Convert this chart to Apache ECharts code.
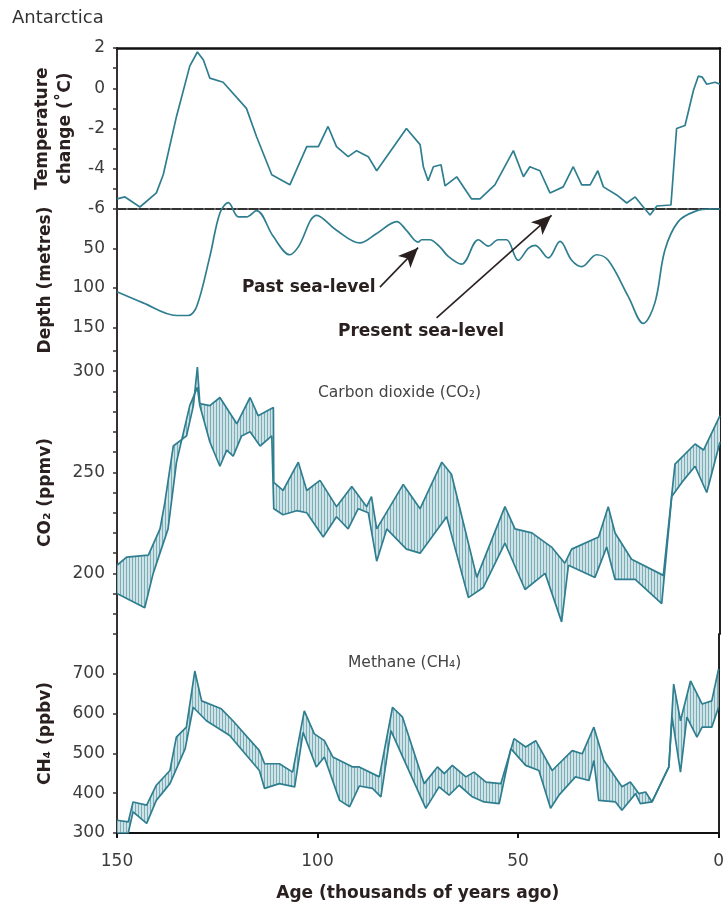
<!DOCTYPE html>
<html>
<head>
<meta charset="utf-8">
<script src="https://cdn.jsdelivr.net/npm/echarts@6/dist/echarts.min.js"></script>
<style>
html,body{margin:0;padding:0;background:#fff;}
#chart{width:727px;height:905px;}
</style>
</head>
<body>
<div id="chart"></div>
<script>
// ---------- DATA ----------
const xTicks = [150, 100, 50, 0];

const tempAge = [150,148,144.3,140.2,138.5,135.2,131.9,130.0,128.5,126.9,123.6,117.8,115.3,111.5,107.0,102.8,99.9,97.5,95.4,92.5,90.4,87.5,85.4,78.0,74.6,73.8,72.6,71.3,69.4,68.4,65.5,61.8,59.7,56.0,51.4,48.9,47.3,44.8,42.3,39.0,36.5,34.4,32.3,30.4,29.0,25.7,23.2,21.1,19.5,17.4,15.7,12.2,10.8,8.7,6.6,5.4,4.4,3.3,1.2,0];
const tempC = [-5.5,-5.4,-5.9,-5.2,-4.3,-1.4,1.1,1.8,1.4,0.5,0.3,-1.0,-2.4,-4.3,-4.8,-2.9,-2.9,-1.9,-2.9,-3.4,-3.1,-3.4,-4.1,-2.0,-2.8,-3.9,-4.6,-3.9,-3.8,-4.85,-4.4,-5.5,-5.5,-4.8,-3.1,-4.4,-3.9,-4.1,-5.2,-4.9,-3.9,-4.8,-4.8,-4.1,-4.9,-5.3,-5.7,-5.4,-5.8,-6.3,-5.85,-5.8,-2.0,-1.85,-0.1,0.6,0.55,0.2,0.3,0.2];

const depthAge = [150,143.5,135.2,132.3,130.2,126.9,124.4,122.3,119.8,117.8,115.3,111.1,107.0,104.9,100.3,95.4,89.6,85.4,80.4,78,75.1,74.2,72.2,69.7,67.6,64.3,60.1,57.6,55.2,53.1,50.2,47.7,46.0,42.7,39.8,36.9,34.4,30.7,27.8,22.8,19.1,16.2,13.7,10.4,6.2,2.1,0];
const depthM = [105,119,135,135,124,60,5,-8,10,10,2,35,58,48,8,27,43,31,16,27,42,39,39,48,60,70,39,47,39,39,65,50,46,62,41,65,73,58,65,111,145,119,52,16,3,0,0];

const co2UpperAge = [150,147.6,142.2,139.3,138.1,136,132.7,131,130,129.4,126.9,124.4,120.2,116.9,114.9,111.1,111,108.7,104.9,102.8,99.5,95.4,91.6,87.9,86.7,85.4,78.8,74.6,69.2,66.8,60.5,53.5,51,46.8,41.9,38.6,36.9,30.2,27.8,26.1,22,14.1,11.2,6.2,4.1,0];
const co2Upper = [204,208,209,222,235,263,268,283,302,284,283,287,274,287,278,282,245,241,255,241,246,233,243,233,238,222,244,232,255,249,198,233,222,220,213,205,212,218,233,220,207,199,254,264,261,278];
const co2LowerAge = [150,143.1,141,137.3,135.2,131.9,130,129.4,126.9,124.4,122.7,121.1,119.0,116.9,114.4,111.5,111,108.7,105.3,102.8,98.7,95.4,92.5,90,87.5,85.4,82.9,78,74.6,68,62.6,58.9,53.5,48.5,43.5,39.4,37.7,31.1,28.2,26.1,21.1,14.5,12,9.5,6.2,3.3,0];
const co2Lower = [190,183,200,222,255,283,292,283,265,253,261,258,268,270,263,268,232,229,231,230,218,228,222,232,230,206,222,212,210,228,188,193,215,192,200,176,204,198,213,197,197,185,238,245,253,240,265];

const ch4UpperAge = [150,147.2,146,142.6,140.2,136.8,135.2,132.7,130.6,128.9,124,121.1,114.5,113.2,109.5,106.2,103.3,100.8,98.3,96.2,91.2,89.6,84.6,81.3,78.8,73.4,70.1,68.4,66.4,63,61,58,54.3,51,48.1,45.6,41.5,36.5,34,31.1,28.6,24.1,22,19.9,18.2,16.6,12.4,11.2,9.5,7,4.1,1.7,0];
const ch4Upper = [332,328,378,370,420,457,541,566,707,632,612,582,507,474,474,453,607,549,532,491,466,466,441,616,591,424,466,449,470,441,453,428,424,537,516,532,457,507,499,566,482,416,428,399,403,378,466,674,582,682,624,632,712];
const ch4LowerAge = [150,147.2,146,142.6,140.2,136.8,133,131,127.7,121.9,114.5,113.2,109.5,105.7,103.6,100.3,98.3,94.5,92,89.6,86.3,84.2,81.7,73,69.7,67.2,64.7,61.4,58.5,54.7,51.8,48.1,44.8,41.9,39.8,35.7,32.3,31.1,29.9,25.7,24.1,20.7,19.5,16.6,12.4,11.6,9.5,7.9,5.4,4.1,1.7,0];
const ch4Lower = [300,300,353,324,382,424,512,616,582,545,457,412,424,416,553,466,491,382,366,418,412,391,557,362,416,395,420,391,378,374,512,470,457,362,395,441,432,482,382,378,357,399,374,378,466,591,453,591,541,566,566,616];

// arrows (data space of the depth panel): [age, depth] tail -> head
const pastArrow = [[84.6, 99], [75.1, 49]];
const presentArrow = [[70.5, 138], [41.9, 8]];

// ---------- helpers ----------
const zip = (a, b) => a.map((x, i) => [x, b[i]]);
const TEAL = '#2f7e90';
const AXIS = '#3a2e2e';
const FONT = '"DejaVu Sans", "Liberation Sans", Arial, sans-serif';

function hatch() {
  const c = document.createElement('canvas');
  c.width = 3; c.height = 2;
  const g = c.getContext('2d');
  g.fillStyle = '#cfe3e7'; g.fillRect(0, 0, 3, 2);
  g.fillStyle = '#7aaeb9'; g.fillRect(0, 0, 1, 2);
  return c;
}
const hatchPattern = { image: hatch(), repeat: 'repeat' };

function bandSeries(idx, upper, lower) {
  return {
    type: 'custom', xAxisIndex: idx, yAxisIndex: idx, silent: true, z: 1,
    data: [[75, upper[0][1]]],
    renderItem: function (params, api) {
      const pts = upper.map(p => api.coord(p)).concat(lower.slice().reverse().map(p => api.coord(p)));
      return { type: 'polygon', shape: { points: pts }, style: { fill: hatchPattern, stroke: null } };
    }
  };
}
function lineSeries(idx, data, extra) {
  return Object.assign({
    type: 'line', xAxisIndex: idx, yAxisIndex: idx, data: data, symbol: 'none',
    lineStyle: { color: TEAL, width: 1.7 }, z: 3, silent: true, animation: false
  }, extra || {});
}

const grids = [
  { left: 117, right: 7, top: 48, height: 161 },
  { left: 117, right: 7, top: 209, height: 142 },
  { left: 117, right: 7, top: 351, height: 283 },
  { left: 117, right: 7, top: 634, height: 199 }
];

const LBL = { fontSize: 17, color: '#3c3c3c', fontFamily: FONT };
const TITLE = { fontSize: 17, fontWeight: 'bold', color: '#2a2020', fontFamily: FONT };
const baseX = { type: 'value', min: 0, max: 150, inverse: true, splitLine: { show: false } };
const xAxes = [
  Object.assign({}, baseX, { gridIndex: 0, position: 'top', axisLine: { onZero: false, lineStyle: { color: '#111', width: 2.5 } }, axisTick: { show: false }, axisLabel: { show: false } }),
  Object.assign({}, baseX, { gridIndex: 1, position: 'top', axisLine: { onZero: false, lineStyle: { color: '#333', width: 2, type: [9, 2] } }, axisTick: { show: false }, axisLabel: { show: false } }),
  Object.assign({}, baseX, { gridIndex: 2, show: false }),
  Object.assign({}, baseX, {
    gridIndex: 3, position: 'bottom', interval: 50,
    axisLine: { onZero: false, lineStyle: { color: '#111', width: 2 } },
    axisTick: { show: true, length: 5, lineStyle: { color: '#111', width: 2 } },
    axisLabel: Object.assign({}, LBL, { margin: 20, formatter: v => xTicks.indexOf(v) >= 0 ? String(v) : '' }),
    name: 'Age (thousands of years ago)', nameLocation: 'middle', nameGap: 52,
    nameTextStyle: TITLE
  })
];

function leftY(idx, o, fmt, name, gap) {
  return Object.assign({
    type: 'value', gridIndex: idx, position: 'left', splitLine: { show: false },
    axisLine: { show: true, onZero: false, lineStyle: { color: AXIS, width: 2 } },
    axisTick: { show: true, length: 4, lineStyle: { color: AXIS, width: 1.5 } },
    axisLabel: Object.assign({}, LBL, { margin: 12, formatter: fmt }),
    name: name, nameLocation: 'middle', nameRotate: 90, nameGap: gap,
    nameTextStyle: Object.assign({ lineHeight: 23 }, TITLE)
  }, o);
}
function rightY(idx, o) {
  return Object.assign({
    type: 'value', gridIndex: idx, position: 'right', splitLine: { show: false },
    axisLine: { show: true, onZero: false, lineStyle: { color: '#222', width: 2 } },
    axisTick: { show: false }, axisLabel: { show: false }
  }, o);
}

const yAxes = [
  leftY(0, { min: -6, max: 2, interval: 1 }, v => (v % 2 === 0 ? String(v) : ''), 'Temperature\nchange (˚C)', 37),
  leftY(1, { min: 0, max: 180, interval: 50, inverse: true }, v => (v > 0 && v % 50 === 0 ? String(v) : ''), 'Depth (metres)', 60),
  leftY(2, { min: 170, max: 310, interval: 10 }, v => (v % 50 === 0 ? String(v) : ''), 'CO₂ (ppmv)', 60),
  leftY(3, { min: 300, max: 800, interval: 100 }, v => (v < 800 ? String(v) : ''), 'CH₄ (ppbv)', 60),
  rightY(0, { min: -6, max: 2 }),
  rightY(1, { min: 0, max: 180, inverse: true }),
  rightY(2, { min: 170, max: 310 }),
  rightY(3, { min: 300, max: 800 })
];

const co2U = zip(co2UpperAge, co2Upper), co2L = zip(co2LowerAge, co2Lower);
const ch4U = zip(ch4UpperAge, ch4Upper), ch4L = zip(ch4LowerAge, ch4Lower);

const series = [
  lineSeries(0, zip(tempAge, tempC), { clip: false }),
  lineSeries(1, zip(depthAge, depthM), {
    clip: false, smooth: 0.35,
    markLine: {
      silent: true, symbol: ['none', 'arrow'], symbolSize: [13, 20], animation: false,
      lineStyle: { color: '#2a2020', width: 1.6, type: 'solid' }, label: { show: false },
      data: [
        [{ coord: pastArrow[0] }, { coord: pastArrow[1] }],
        [{ coord: presentArrow[0] }, { coord: presentArrow[1] }]
      ]
    }
  }),
  bandSeries(2, co2U, co2L),
  lineSeries(2, co2U),
  lineSeries(2, co2L),
  bandSeries(3, ch4U, ch4L),
  lineSeries(3, ch4U),
  lineSeries(3, ch4L)
];

const txt = (left, top, text, size, weight, color) => ({
  type: 'text', left: left, top: top, silent: true, z: 10,
  style: { text: text, fontSize: size, fontWeight: weight, fill: color, fontFamily: FONT }
});

const option = {
  backgroundColor: '#fff',
  animation: false,
  grid: grids,
  xAxis: xAxes,
  yAxis: yAxes,
  series: series,
  graphic: [
    txt(12, 9, 'Antarctica', 18, 'normal', '#333'),
    txt(242, 279, 'Past sea-level', 17, 'bold', '#2a2020'),
    txt(338, 323, 'Present sea-level', 17, 'bold', '#2a2020'),
    txt(318, 385, 'Carbon dioxide (CO₂)', 15.5, 'normal', '#444'),
    txt(348, 655, 'Methane (CH₄)', 15.5, 'normal', '#444')
  ]
};

const chart = echarts.init(document.getElementById('chart'), null, { renderer: 'canvas' });
chart.setOption(option);
</script>
</body>
</html>
